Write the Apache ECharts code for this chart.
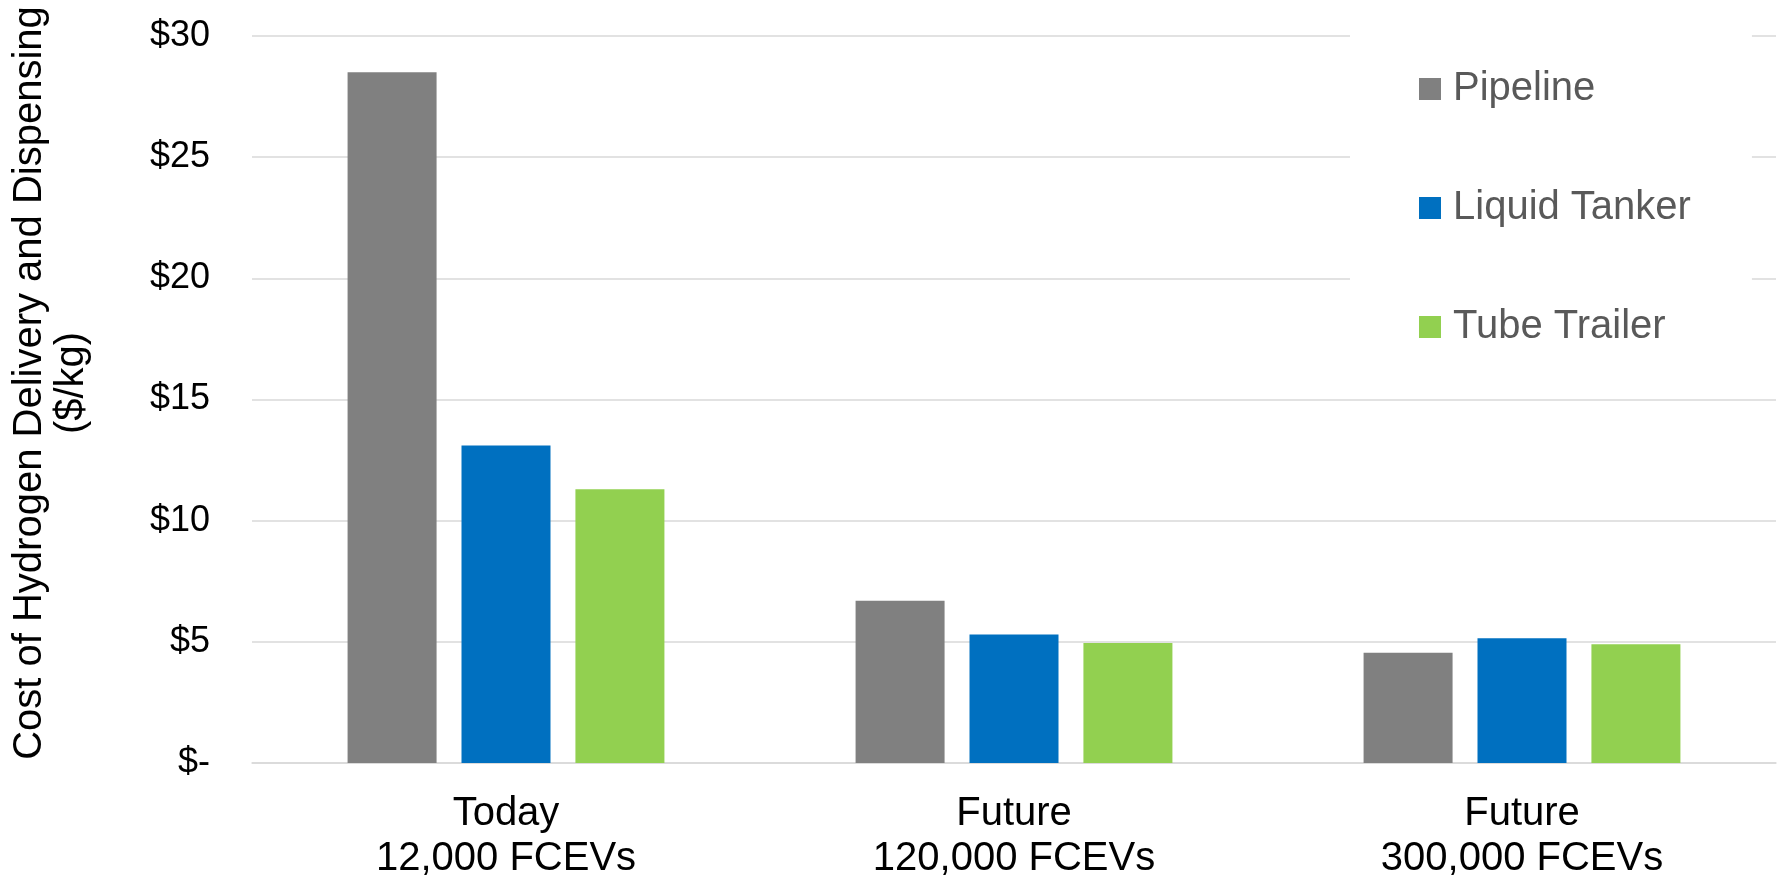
<!DOCTYPE html>
<html>
<head>
<meta charset="utf-8">
<script src="https://cdn.jsdelivr.net/npm/echarts@6/dist/echarts.min.js"></script>
<style>
  html, body { margin: 0; padding: 0; background: #ffffff; }
  #chart { width: 1778px; height: 887px; }
</style>
</head>
<body>
<div id="chart"></div>
<script>
// Delivery scenarios (x categories)
const categories = ['Today\n12,000 FCEVs', 'Future\n120,000 FCEVs', 'Future\n300,000 FCEVs'];

// Cost of hydrogen delivery and dispensing, $/kg
const pipeline = [28.5, 6.7, 4.55];
const liquidTanker = [13.1, 5.3, 5.15];
const tubeTrailer = [11.3, 4.95, 4.9];

const seriesNames = ['Pipeline', 'Liquid Tanker', 'Tube Trailer'];

// Value axis range and step
const yMin = 0;
const yMax = 30;
const yStep = 5;

const axisTitle = 'Cost of Hydrogen Delivery and Dispensing\n($/kg)';

const FONT = '"Liberation Sans", Arial, sans-serif';
const colors = ['#808080', '#0070C0', '#92D050'];

const chart = echarts.init(document.getElementById('chart'), null, { renderer: 'canvas' });

function barSeries(name, data, color) {
  return {
    name: name,
    type: 'bar',
    data: data,
    barWidth: 89,
    barGap: '28%',
    itemStyle: { color: color },
    emphasis: { disabled: true }
  };
}

chart.setOption({
  animation: false,
  backgroundColor: '#ffffff',
  textStyle: { fontFamily: FONT },
  grid: { left: 252, right: 2, top: 36, bottom: 124, containLabel: false },
  legend: {
    orient: 'vertical',
    left: 1350,
    top: 20,
    padding: [49, 61, 40, 69],
    backgroundColor: '#ffffff',
    icon: 'rect',
    itemWidth: 22,
    itemHeight: 22,
    itemGap: 79,
    data: seriesNames,
    textStyle: {
      fontFamily: FONT,
      fontSize: 40,
      lineHeight: 40,
      color: '#595959',
      padding: [0, 0, 0, 7]
    }
  },
  xAxis: {
    type: 'category',
    data: categories,
    axisTick: { show: false },
    axisLine: { show: true, lineStyle: { color: '#d9d9d9', width: 1.5 } },
    axisLabel: {
      fontFamily: FONT,
      fontSize: 40,
      lineHeight: 45,
      color: '#000000',
      margin: 28,
      interval: 0
    }
  },
  yAxis: {
    type: 'value',
    min: yMin,
    max: yMax,
    interval: yStep,
    axisLine: { show: false },
    axisTick: { show: false },
    splitLine: { lineStyle: { color: '#d9d9d9', width: 1.5 } },
    axisLabel: {
      fontFamily: FONT,
      fontSize: 36,
      color: '#000000',
      margin: 42,
      formatter: function (v) { return v === 0 ? '$-' : '$' + v; }
    }
  },
  graphic: [{
    type: 'text',
    x: 51,
    y: 383,
    rotation: Math.PI / 2,
    style: {
      text: axisTitle,
      font: '40px ' + FONT,
      fill: '#000000',
      align: 'center',
      verticalAlign: 'middle',
      lineHeight: 42
    }
  }],
  series: [
    barSeries(seriesNames[0], pipeline, colors[0]),
    barSeries(seriesNames[1], liquidTanker, colors[1]),
    barSeries(seriesNames[2], tubeTrailer, colors[2])
  ]
});
</script>
</body>
</html>
